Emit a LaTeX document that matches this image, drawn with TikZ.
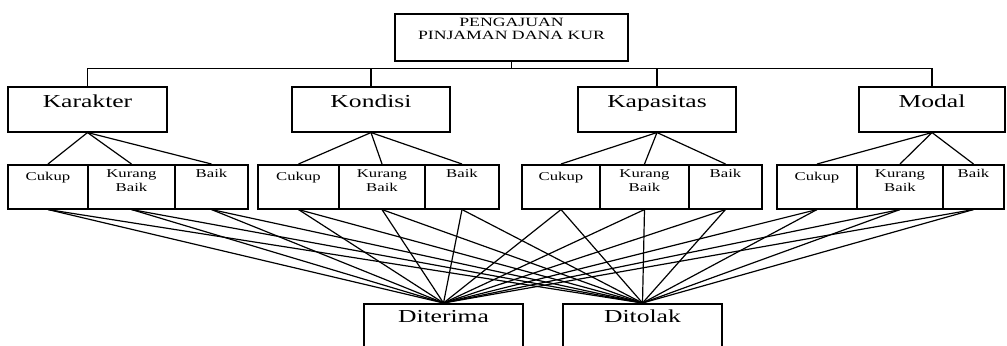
\documentclass[tikz,border=0pt]{standalone}
\usepackage{fontspec}
\setmainfont{Liberation Serif}
\usetikzlibrary{positioning}

\newcommand{\toplbl}{\fontsize{9}{9.5}\selectfont\addfontfeatures{FakeStretch=1.4}}
\newcommand{\biglbl}{\fontsize{13}{15}\selectfont\addfontfeatures{FakeStretch=1.4}}
\newcommand{\sublbl}{\fontsize{8.5}{10}\selectfont\addfontfeatures{FakeStretch=1.4}}
\newcommand{\kb}{Kurang\\Baik}

\begin{document}
\begin{tikzpicture}[box/.style={draw,line width=1.1pt,inner xsep=0pt,inner ysep=0pt,anchor=north},
	main/.style={box,minimum width=#1,font=\biglbl,text height=0.51cm,text depth=0.615cm},
	sub/.style={box,minimum width=#1,font=\sublbl,align=center},
	res/.style={box,minimum width=3.975cm,font=\biglbl,text height=0.475cm,text depth=1cm},
	line width=0.85pt]
	\useasboundingbox (0,0) rectangle (25.175,-8.625);
	\clip (0,0) rectangle (25.175,-8.625);
	
	\node[box,minimum width=5.825cm,font=\toplbl,align=center,text height=0.65cm,text depth=0.525cm] (top) at (12.7875,-0.325) {PENGAJUAN\\PINJAMAN DANA KUR};
	
	\node[main=3.975cm] (kar) at (2.1875,-2.15) {Karakter};
	\node[main=3.95cm] (kon) at (9.275,-2.15) {Kondisi};
	\node[main=3.95cm] (kap) at (16.425,-2.15) {Kapasitas};
	\node[main=3.65cm] (mod) at (23.3,-2.15) {Modal};
	
	\draw (top.south) -- ++(0,-0.175) coordinate (bus);
	\draw (kar.north) |- (bus) -| (mod.north);
	\draw (kon.north) -- (kon.north |- bus);
	\draw (kap.north) -- (kap.north |- bus);
	
	% name / x / width / text height / text depth / label
	\foreach \n/\x/\w/\a/\b/\t in {karc/1.2/2.0/0.4/0.7/Cukup, kark/3.2875/2.175/0.675/0.425/\kb, karb/5.2875/1.825/0.33/0.77/Baik,
		konc/7.4625/2.025/0.4/0.7/Cukup, konk/9.55/2.15/0.675/0.425/\kb, konb/11.55/1.85/0.33/0.77/Baik,
		kapc/14.025/1.95/0.4/0.7/Cukup, kapk/16.1125/2.225/0.675/0.425/\kb, kapb/18.1375/1.825/0.33/0.77/Baik,
		modc/20.425/2.0/0.4/0.7/Cukup, modk/22.5/2.15/0.675/0.425/\kb, modb/24.3375/1.525/0.33/0.77/Baik}
	{\node[sub=\w cm,text height=\a cm,text depth=\b cm] (\n) at (\x,-4.1) {\t};}
	
	\node[res] (ter) at (11.0875,-7.575) {Diterima};
	\node[res] (tol) at (16.0625,-7.575) {Ditolak};
	
	\foreach \p in {kar,kon,kap,mod}
	\foreach \s in {c,k,b}
	{
		\draw (\p.south) -- (\p\s.north);
		\draw (\p\s.south) -- (ter.north);
		\draw (\p\s.south) -- (tol.north);
	}
\end{tikzpicture}
\end{document}
